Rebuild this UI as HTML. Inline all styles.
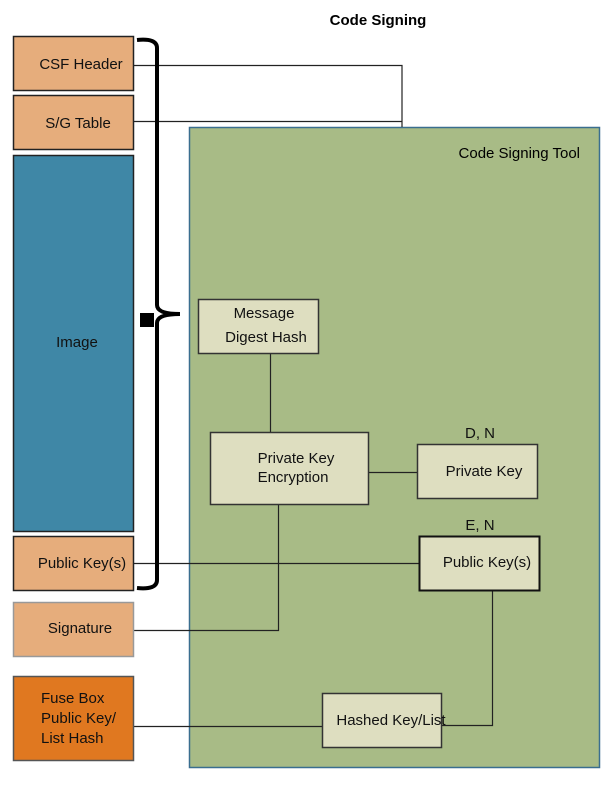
<!DOCTYPE html>
<html><head><meta charset="utf-8"><style>html,body{margin:0;padding:0;background:#fff}</style></head>
<body>
<svg width="615" height="792" xmlns="http://www.w3.org/2000/svg" font-family="Liberation Sans, sans-serif" font-size="15">
<rect width="615" height="792" fill="#fff"/>
<text x="378" y="25" text-anchor="middle" font-weight="bold" font-size="15">Code Signing</text>
<rect x="189.5" y="127.5" width="410" height="640" fill="#a8bb86" stroke="#3a6e8f" stroke-width="1.5"/>
<text x="580" y="158" text-anchor="end">Code Signing Tool</text>
<g stroke="#222" stroke-width="1.2" fill="none">
<path d="M133 65.5H402V127"/>
<path d="M133 121.5H402"/>
<path d="M270.5 353V432"/>
<path d="M368 472.5H417"/>
<path d="M133 563.5H419"/>
<path d="M278.5 504V630.5H133"/>
<path d="M492.5 590V725.5H441"/>
<path d="M133 726.5H322"/>
</g>
<g stroke="#222" stroke-width="1.5">
<rect x="13.5" y="36.5" width="120" height="54" fill="#e6ad7c"/>
<rect x="13.5" y="95.5" width="120" height="54" fill="#e6ad7c"/>
<rect x="13.5" y="155.5" width="120" height="376" fill="#3f87a6"/>
<rect x="13.5" y="536.5" width="120" height="54" fill="#e6ad7c"/>
<rect x="13.5" y="602.5" width="120" height="54" fill="#e6ad7c" stroke="#999"/>
<rect x="13.5" y="676.5" width="120" height="84" fill="#e07820" stroke="#555"/>
<rect x="198.5" y="299.5" width="120" height="54" fill="#dedec0" stroke="#333"/>
<rect x="210.5" y="432.5" width="158" height="72" fill="#dedec0" stroke="#333"/>
<rect x="417.5" y="444.5" width="120" height="54" fill="#dedec0" stroke="#333"/>
<rect x="419.5" y="536.5" width="120" height="54" fill="#dedec0" stroke="#111" stroke-width="2"/>
<rect x="322.5" y="693.5" width="119" height="54" fill="#dedec0" stroke="#333"/>
</g>
<path d="M137 40 Q157 38 157 48 V305 Q157 314 180 314 Q157 314 157 323 V580 Q157 590 137 588" stroke="#000" stroke-width="4" fill="none"/>
<rect x="140" y="313" width="14" height="14" fill="#000"/>
<g fill="#111">
<text x="81" y="69" text-anchor="middle">CSF Header</text>
<text x="78" y="128" text-anchor="middle">S/G Table</text>
<text x="77" y="347" text-anchor="middle">Image</text>
<text x="82" y="568" text-anchor="middle">Public Key(s)</text>
<text x="80" y="633" text-anchor="middle">Signature</text>
<text x="41" y="703">Fuse Box</text>
<text x="41" y="723">Public Key/</text>
<text x="41" y="743">List Hash</text>
<text x="264" y="318" text-anchor="middle">Message</text>
<text x="266" y="342" text-anchor="middle">Digest Hash</text>
<text x="296" y="463" text-anchor="middle">Private Key</text>
<text x="293" y="482" text-anchor="middle">Encryption</text>
<text x="480" y="438" text-anchor="middle">D, N</text>
<text x="484" y="476" text-anchor="middle">Private Key</text>
<text x="480" y="530" text-anchor="middle">E, N</text>
<text x="487" y="567" text-anchor="middle">Public Key(s)</text>
<text x="391" y="725" text-anchor="middle">Hashed Key/List</text>
</g>
</svg>
</body></html>
